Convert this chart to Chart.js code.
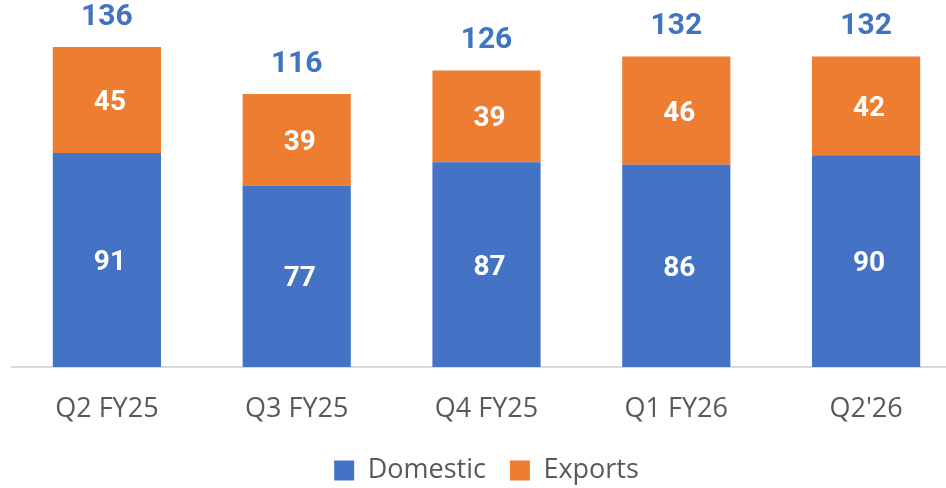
<!DOCTYPE html>
<html>
<head>
<meta charset="utf-8">
<script src="https://cdn.jsdelivr.net/npm/chart.js"></script>
<style>
  html, body { margin: 0; padding: 0; background: #fff; overflow: hidden; }
  #wrap { width: 962px; height: 488px; position: relative; }
</style>
</head>
<body>
<div id="wrap"><canvas id="chart"></canvas></div>
<script>
// quarterly volumes, split by market
const quarters = ["Q2 FY25", "Q3 FY25", "Q4 FY25", "Q1 FY26", "Q2'26"];
const domestic = [91, 77, 87, 86, 90];
const exportsVol = [45, 39, 39, 46, 42];
const totals = [136, 116, 126, 132, 132];

const BLUE = "#4472C4";
const ORANGE = "#ED7D31";

// draws the white numbers inside each segment and the blue totals on top
const barLabels = {
  id: "barLabels",
  afterDatasetsDraw(chart) {
    const ctx = chart.ctx;
    ctx.save();
    ctx.textAlign = "center";
    ctx.textBaseline = "middle";
    chart.data.datasets.forEach((ds, di) => {
      const meta = chart.getDatasetMeta(di);
      meta.data.forEach((bar, i) => {
        const mid = (bar.y + bar.base) / 2;
        ctx.fillStyle = "#fff";
        ctx.font = "bold 28px Roboto";
        ctx.fillText(ds.data[i], bar.x + 3, mid + 3);
      });
    });
    const top = chart.getDatasetMeta(1);
    top.data.forEach((bar, i) => {
      ctx.fillStyle = "#3F74BE";
      ctx.font = "bold 30px Roboto";
      ctx.fillText(totals[i], bar.x, bar.y - 30);
    });
    ctx.restore();
  }
};

new Chart(document.getElementById("chart"), {
  type: "bar",
  data: {
    labels: quarters,
    datasets: [
      { label: "Domestic", data: domestic, backgroundColor: BLUE },
      { label: "Exports", data: exportsVol, backgroundColor: ORANGE }
    ]
  },
  options: {
    responsive: true,
    maintainAspectRatio: false,
    animation: false,
    layout: { padding: { left: 12, right: 1, top: 0, bottom: -6 } },
    datasets: { bar: { categoryPercentage: 1, barPercentage: 0.57 } },
    plugins: {
      legend: {
        position: "bottom",
        labels: {
          boxWidth: 20,
          boxHeight: 20,
          padding: 24,
          color: "#595959",
          font: { family: "Open Sans", size: 27, lineHeight: 1 }
        }
      },
      tooltip: { enabled: false }
    },
    scales: {
      x: {
        stacked: true,
        grid: { display: false },
        border: { color: "#D9D9D9", width: 2 },
        ticks: { color: "#595959", padding: 21, font: { family: "Open Sans", size: 27, lineHeight: 1 } },
        afterFit(scale) { scale.height -= 11; }
      },
      y: {
        stacked: true,
        display: false,
        min: 0,
        max: 156
      }
    }
  },
  plugins: [barLabels]
});
</script>
</body>
</html>
